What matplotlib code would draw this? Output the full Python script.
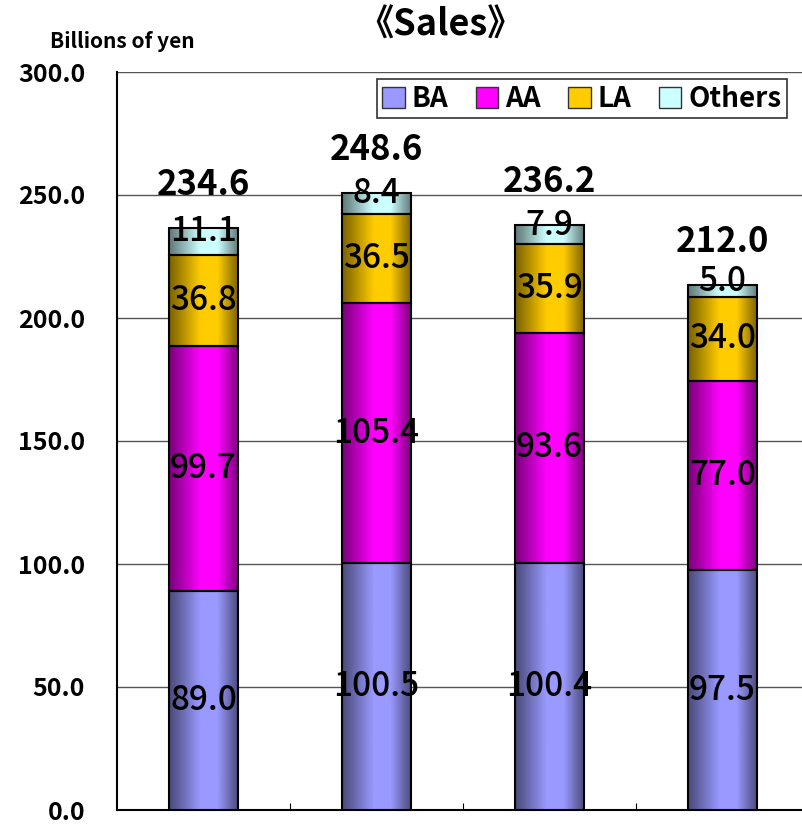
import numpy as np
import matplotlib.pyplot as plt
from matplotlib.colors import LinearSegmentedColormap
from matplotlib.patches import Patch

plt.rcParams['font.family'] = ['Noto Sans CJK JP', 'DejaVu Sans']

# データ
series = ['BA', 'AA', 'LA', 'Others']
ba = [89.0, 100.5, 100.4, 97.5]
aa = [99.7, 105.4, 93.6, 77.0]
la = [36.8, 36.5, 35.9, 34.0]
others = [11.1, 8.4, 7.9, 5.0]
totals = [234.6, 248.6, 236.2, 212.0]
values = [ba, aa, la, others]

light = ['#9999ff', '#ff00ff', '#ffcc00', '#ccffff']
dark = ['#4a4a7a', '#7a007a', '#7a6200', '#607878']

fig = plt.figure(figsize=(8.02, 8.26), dpi=100)
ax = fig.add_axes([117/802, 1 - 810/826, 692/802, 738/826])

x = np.arange(len(ba))
width = 0.40
bottom = np.zeros(len(ba))
grad = np.linspace(0, 1, 64).reshape(1, -1)

for i, vals in enumerate(values):
    cmap = LinearSegmentedColormap.from_list(
        'g%d' % i, [(0, dark[i]), (0.45, light[i]), (0.7, light[i]), (1, dark[i])])
    bars = ax.bar(x, vals, width, bottom=bottom, facecolor='none',
                  edgecolor='black', linewidth=1.5, zorder=4)
    for b in bars:
        ax.imshow(grad, cmap=cmap, aspect='auto', zorder=3,
                  extent=[b.get_x(), b.get_x() + b.get_width(),
                          b.get_y(), b.get_y() + b.get_height()])
    for xi, v, bt in zip(x, vals, bottom):
        dy = 7 if i == 3 else 0
        ax.annotate('%.1f' % v, (xi, bt + v / 2), xytext=(0, dy),
                    textcoords='offset points', ha='center', va='center',
                    fontsize=24, fontweight='medium', zorder=5)
    bottom += np.array(vals)

for xi, t, top in zip(x, totals, bottom):
    ax.annotate('%.1f' % t, (xi, top), xytext=(0, 31), textcoords='offset points',
                ha='center', va='center', fontsize=25, fontweight='bold', zorder=5)

ax.set_xlim(-0.5, 3.5)
ax.set_ylim(0, 300)
ax.set_yticks(np.arange(0, 301, 50))
ax.set_yticklabels(['%.1f' % v for v in np.arange(0, 301, 50)], fontsize=18,
                   fontweight='bold')
ax.tick_params(axis='y', length=0, pad=23)
ax.set_xticks([0.5, 1.5, 2.5])
ax.set_xticklabels([])
ax.tick_params(axis='x', direction='in', length=5, color='black')
ax.yaxis.grid(True, color='#555555', linewidth=1)
ax.set_axisbelow(True)
for s in ['top', 'right']:
    ax.spines[s].set_visible(False)
ax.spines['left'].set_linewidth(1.5)
ax.spines['bottom'].set_linewidth(1.5)

handles = [Patch(facecolor=light[i], edgecolor='#333333') for i in range(4)]
leg = ax.legend(handles, series, loc='upper right', ncol=4, fontsize=20,
                frameon=True, fancybox=False, edgecolor='black', borderaxespad=0,
                bbox_to_anchor=(0.968, 0.99), handlelength=0.8, handleheight=0.8,
                handletextpad=0.25, columnspacing=1.0, borderpad=0.2)
leg.get_frame().set_linewidth(1.2)
for t in leg.get_texts():
    t.set_fontweight('bold')

fig.text(440/802, 1 - 25/826, '《Sales》', ha='center', va='center',
         fontsize=26, fontweight='bold')
fig.text(50/802, 1 - 42/826, 'Billions of yen', ha='left', va='center',
         fontsize=15, fontweight='bold')

fig.savefig('out.png', dpi=100)
